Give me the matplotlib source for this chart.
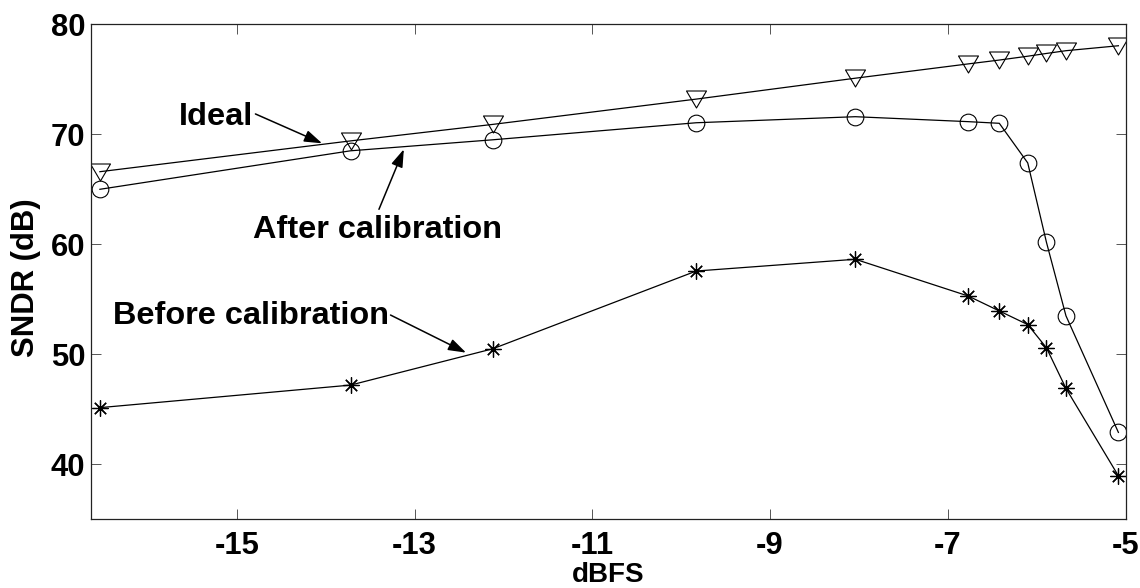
import matplotlib
matplotlib.use("Agg")
import matplotlib.pyplot as plt
from matplotlib.path import Path

plt.rcParams['font.family'] = ['Liberation Sans', 'DejaVu Sans']
plt.rcParams['font.weight'] = 'bold'
plt.rcParams['axes.unicode_minus'] = False

# Input level (dBFS) and measured SNDR (dB)
dbfs = [-16.54, -13.72, -12.12, -9.83, -8.04, -6.77, -6.42, -6.10, -5.89, -5.67, -5.08]
sndr_ideal = [66.6, 69.4, 70.9, 73.2, 75.1, 76.4, 76.75, 77.1, 77.35, 77.6, 78.05]
sndr_after = [65.0, 68.5, 69.5, 71.05, 71.6, 71.15, 71.0, 67.4, 60.2, 53.5, 42.9]
sndr_before = [45.15, 47.2, 50.5, 57.57, 58.64, 55.3, 53.94, 52.7, 50.6, 46.9, 38.95]

x_ticks = [-15, -13, -11, -9, -7, -5]
y_ticks = [40, 50, 60, 70, 80]

W, H = 1140, 588
fig = plt.figure(figsize=(W / 100, H / 100), dpi=100)
ax_l, ax_r, ax_t, ax_b = 91, 1125.5, 24.3, 519.3
ax = fig.add_axes([ax_l / W, 1 - ax_b / H, (ax_r - ax_l) / W, (ax_b - ax_t) / H])

# downward triangle, slightly wider than tall
tri = Path([(-1, 0.85), (1, 0.85), (0, -0.85), (-1, 0.85)],
           [Path.MOVETO, Path.LINETO, Path.LINETO, Path.CLOSEPOLY])

lw = 0.9
ax.plot(dbfs, sndr_ideal, color='black', lw=lw, marker=tri, ms=14.4,
        mfc='none', mec='black', mew=0.8)
ax.plot(dbfs, sndr_after, color='black', lw=lw, marker='o', ms=12,
        mfc='none', mec='black', mew=0.8)
ax.plot(dbfs, sndr_before, color='black', lw=lw, marker=(8, 2, 0), ms=11.5,
        mec='black', mew=0.9)

ax.set_xlim(-16.64, -5)
ax.set_ylim(35, 80)
ax.set_xticks(x_ticks)
ax.set_xticklabels([str(v) for v in x_ticks])
ax.set_yticks(y_ticks)
ax.set_yticklabels([str(v) for v in y_ticks])

tick_fs = 22.3
ax.tick_params(axis='both', direction='in', length=7.5, width=0.7,
               color='#555555', labelsize=tick_fs, top=True, right=True)
ax.tick_params(axis='x', pad=8.5)
ax.tick_params(axis='y', pad=4.1)
for lab in ax.get_xticklabels() + ax.get_yticklabels():
    lab.set_fontweight('bold')
for s in ax.spines.values():
    s.set_linewidth(0.9)
    s.set_color('#222222')

ax.set_xlabel('dBFS', fontsize=20, fontweight='bold')
ax.set_ylabel('SNDR (dB)', fontsize=tick_fs, fontweight='bold')
ax.xaxis.set_label_coords(0.5, -0.0855)
ax.yaxis.set_label_coords(-0.048, 0.4885)

ann_fs = 23.4
arrow_kw = dict(arrowstyle='-|>,head_length=0.6,head_width=0.2', color='black',
                lw=1.1, shrinkA=0, shrinkB=0, mutation_scale=18)

ax.text(-14.82, 70.85, 'Ideal', ha='right', va='baseline',
        fontsize=ann_fs, fontweight='bold')
ax.annotate('', xy=(-14.04, 69.18), xytext=(-14.79, 71.85), arrowprops=arrow_kw)

ax.text(-13.42, 60.55, 'After calibration', ha='center', va='baseline',
        fontsize=ann_fs, fontweight='bold')
ax.annotate('', xy=(-13.12, 68.64), xytext=(-13.40, 63.18), arrowprops=arrow_kw)

ax.text(-13.29, 52.75, 'Before calibration', ha='right', va='baseline',
        fontsize=ann_fs, fontweight='bold')
ax.annotate('', xy=(-12.42, 50.15), xytext=(-13.27, 53.57), arrowprops=arrow_kw)

fig.savefig('out.png', dpi=100)
